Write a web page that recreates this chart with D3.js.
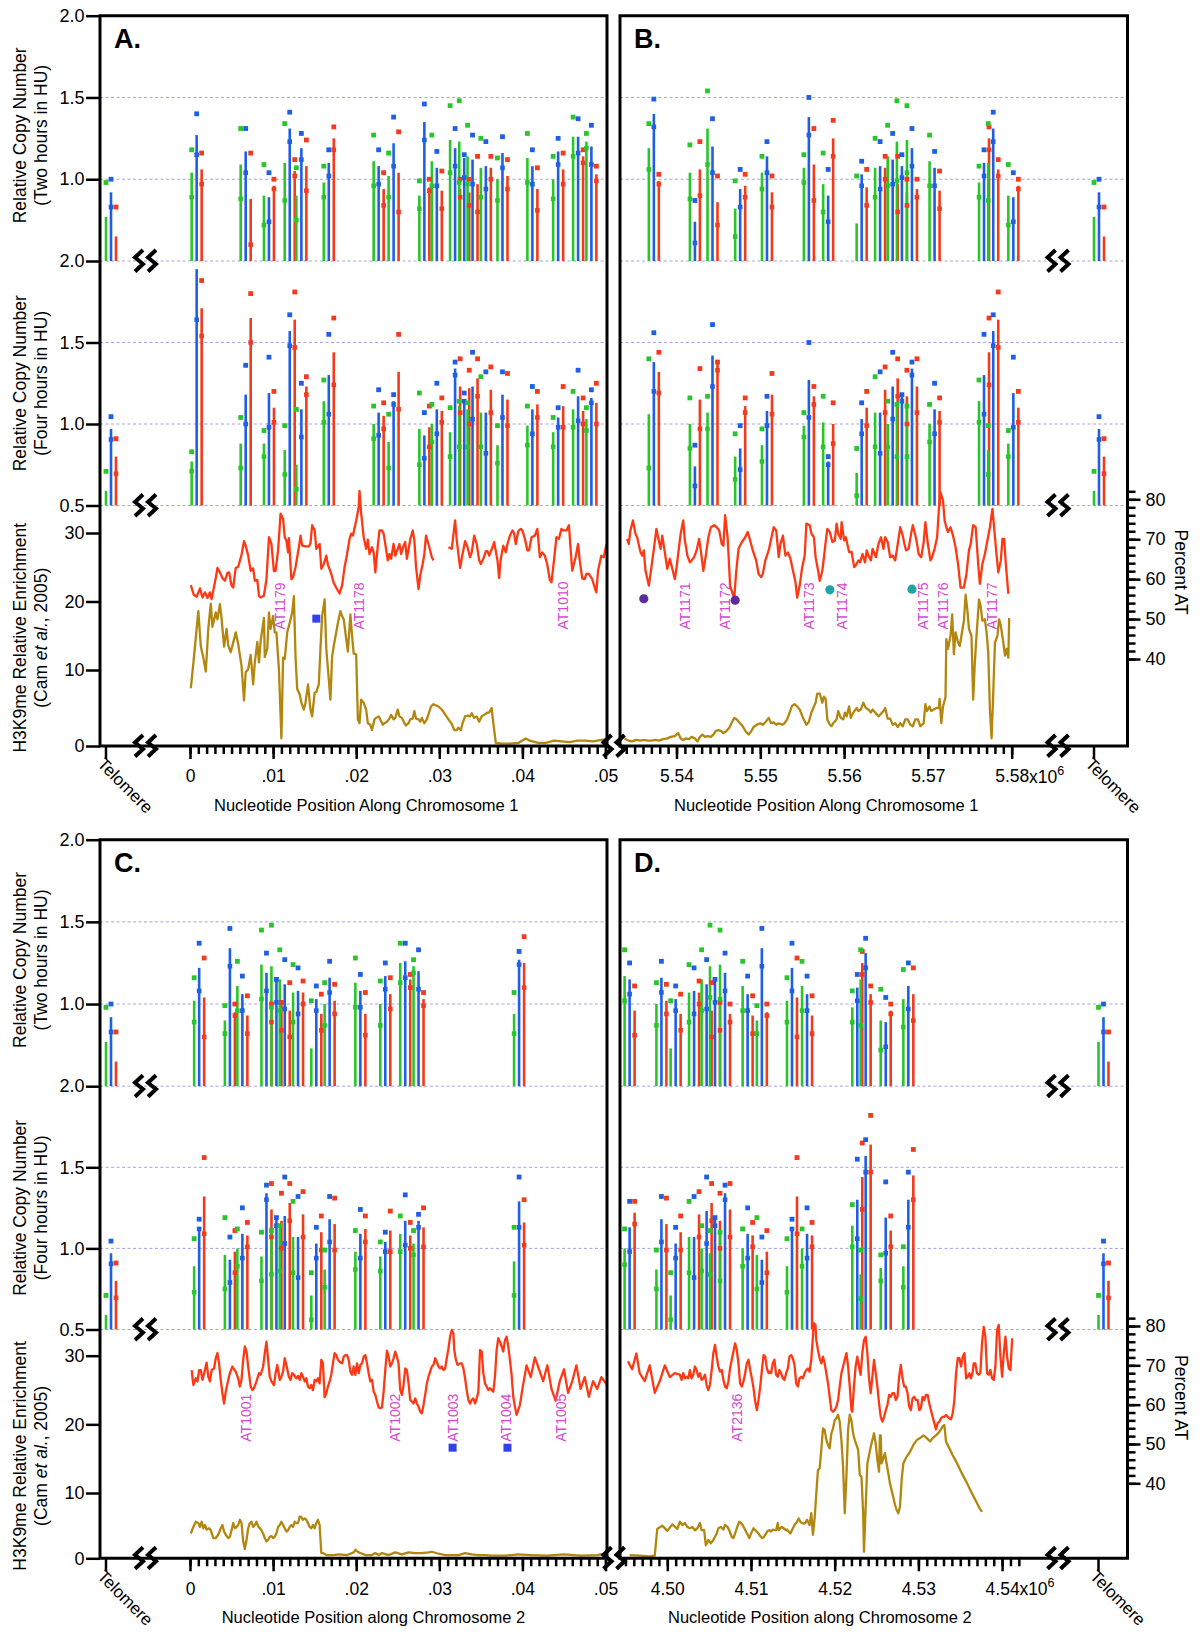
<!DOCTYPE html>
<html><head><meta charset="utf-8">
<script src="https://cdn.jsdelivr.net/npm/d3@7"></script>
<style>body{margin:0;background:#fff}svg{display:block}text{font-family:"Liberation Sans",Arial,Helvetica,sans-serif}</style>
</head><body><svg id="c" width="1200" height="1638"></svg>
<script>
// ---------------- DATA ----------------
// copy-number rows: per locus [green hi, mid, sq, blue hi, mid, sq, red hi, mid, sq]
const TEL_2h = [0.77,0.45,0.98, 0.92,0.83,1.00, 0.65,0.45,0.83];
const TEL_4h = [0.59,0.45,0.71, 0.97,0.905,1.045, 0.80,0.695,0.91];

const A_pos = [0.0002,0.0061,0.0089,0.0114,0.0128,0.0161,0.0221,0.0239,0.0276,0.0291,0.0313,0.0324,0.0334,0.0350,0.0370,0.0406,0.0437,0.0461,0.0477];
const A_2h = [
[1.04,0.89,1.18,1.27,1.15,1.40,1.06,0.97,1.16],[1.09,0.88,1.31,1.17,1.04,1.31,0.88,0.60,1.16],
[0.90,0.72,1.09,0.89,0.74,1.04,0.96,0.94,1.00],[1.10,0.87,1.34,1.31,1.23,1.41,1.05,1.02,1.12],
[0.90,0.75,1.07,1.19,1.12,1.28,1.08,0.93,1.24],[0.98,0.89,1.08,1.10,1.02,1.18,1.25,1.18,1.32],
[1.11,0.96,1.27,1.08,0.97,1.18,0.94,0.84,1.04],[1.02,0.89,1.16,1.22,1.08,1.38,1.04,0.80,1.29],
[0.90,0.82,0.99,1.35,1.24,1.46,0.95,0.93,1.00],[1.11,0.96,1.27,1.07,0.96,1.17,0.93,0.82,1.05],
[1.24,1.04,1.45,1.19,1.08,1.31,0.94,0.89,1.00],[1.23,0.98,1.48,1.13,1.01,1.15,0.92,0.84,1.00],
[1.14,0.97,1.33,1.12,0.97,1.27,0.97,0.80,1.14],[1.07,0.89,1.25,1.08,0.94,1.23,1.07,1.00,1.14],
[1.00,0.87,1.13,1.16,1.07,1.26,1.02,0.94,1.12],[1.13,0.98,1.28,1.08,0.97,1.18,0.94,0.81,1.07],
[1.00,0.88,1.14,1.17,1.09,1.25,1.06,0.97,1.16],[1.26,1.14,1.38,1.26,1.16,1.37,1.14,1.10,1.18],
[1.23,1.19,1.28,1.20,1.09,1.33,1.03,0.99,1.08]];
const A_4h = [
[0.77,0.71,0.83,1.95,1.64,2.10,1.71,1.54,1.88],[0.88,0.73,1.04,1.18,1.00,1.36,1.65,1.50,1.80],
[0.88,0.80,0.96,1.19,0.98,1.41,1.10,1.01,1.20],[0.84,0.69,0.99,1.57,1.48,1.67,1.64,1.47,1.81],
[0.75,0.60,1.09,1.09,0.92,1.25,1.23,1.18,1.29],[1.14,1.01,1.27,1.30,1.06,1.55,1.44,1.24,1.65],
[1.00,0.91,1.11,1.07,0.93,1.21,1.05,0.97,1.13],[0.89,0.73,1.06,1.14,1.12,1.18,1.32,1.09,1.55],
[0.97,0.75,1.19,0.93,0.79,1.07,0.98,0.86,1.11],[1.00,0.89,1.12,1.09,0.94,1.25,1.08,1.01,1.16],
[0.95,0.80,1.10,1.34,1.30,1.38,1.23,1.07,1.40],[1.11,0.86,1.14,1.15,1.14,1.19,1.22,1.00,1.33],
[1.09,0.86,1.13,1.23,1.03,1.44,1.28,1.17,1.40],[1.07,0.86,1.29,1.07,0.82,1.32,1.21,1.07,1.35],
[0.87,0.76,0.99,1.18,1.04,1.32,1.15,0.99,1.31],[0.99,0.87,1.11,1.09,0.94,1.23,1.12,1.04,1.20],
[0.95,0.86,1.04,1.04,0.98,1.10,1.11,0.98,1.23],[1.09,0.98,1.20,1.17,1.02,1.33,1.08,1.00,1.16],
[1.03,0.96,1.10,1.16,1.13,1.21,1.13,1.00,1.25]];

const B_pos = [5.5367,5.5416,5.5437,5.5470,5.5502,5.5552,5.5575,5.5615,5.5637,5.5652,5.5663,5.5675,5.5702,5.5761,5.5772,5.5796];
const B_2h = [
[1.19,1.06,1.34,1.40,1.32,1.49,0.99,0.97,1.03],[1.04,0.88,1.21,0.74,0.61,0.87,1.06,0.90,1.23],
[1.31,1.09,1.54,1.20,1.04,1.37,0.86,0.72,1.02],[0.82,0.65,0.99,0.94,0.83,1.06,0.96,0.89,1.03],
[1.04,0.94,1.14,1.14,1.04,1.23,0.92,0.83,1.02],[1.07,0.98,1.15,1.38,1.27,1.50,1.09,0.87,1.31],
[0.97,0.80,1.16,0.90,0.74,1.06,1.25,1.14,1.36],[0.73,0.45,1.02,1.03,0.96,1.11,0.95,0.84,1.06],
[1.07,0.89,1.25,1.08,0.94,1.23,1.07,1.00,1.14],[1.14,0.96,1.33,1.12,0.97,1.28,0.97,0.80,1.14],
[1.23,0.99,1.48,1.08,1.01,1.15,0.92,0.84,1.00],[1.24,1.04,1.45,1.19,1.08,1.31,0.94,0.89,1.00],
[1.11,0.96,1.27,1.07,0.96,1.17,0.93,0.82,1.05],[0.98,0.89,1.08,1.10,1.02,1.18,1.25,1.18,1.32],
[1.10,0.87,1.34,1.31,1.23,1.41,1.06,1.02,1.12],[0.90,0.72,1.09,0.89,0.74,1.04,0.96,0.94,1.00]];
const B_4h = [
[1.06,0.73,1.40,1.38,1.20,1.56,1.32,1.19,1.44],[1.00,0.85,1.16,0.74,0.62,0.87,1.15,0.97,1.34],
[1.07,0.97,1.17,1.42,1.23,1.61,1.38,1.33,1.38],[0.80,0.66,0.94,0.85,0.72,0.99,1.11,1.07,1.16],
[0.87,0.77,0.97,1.08,0.99,1.17,1.18,1.06,1.31],[0.99,0.92,1.07,1.27,1.04,1.50,1.17,1.12,1.23],
[1.01,0.86,1.17,0.77,0.75,0.80,1.00,0.88,1.13],[0.70,0.56,0.85,1.03,0.94,1.13,1.10,0.99,1.20],
[1.07,0.86,1.29,1.07,0.82,1.32,1.21,1.07,1.35],[1.00,0.86,1.14,1.23,1.03,1.44,1.28,1.17,1.40],
[1.11,0.80,1.12,1.19,1.14,1.18,1.17,1.00,1.33],[1.11,0.80,1.11,1.34,1.30,1.38,1.23,1.07,1.40],
[1.00,0.89,1.12,1.09,0.94,1.25,1.08,1.01,1.16],[1.14,1.01,1.27,1.30,1.06,1.55,1.44,1.24,1.65],
[0.84,0.69,0.99,1.57,1.48,1.67,1.64,1.47,1.81],[0.88,0.80,0.96,1.19,0.98,1.41,1.10,1.01,1.20]];

const C_pos = [0.0005,0.0042,0.0057,0.0086,0.0098,0.0108,0.0124,0.0146,0.0162,0.0199,0.0229,0.0253,0.0269,0.0390];
const C_2h = [
[1.02,0.89,1.16,1.22,1.08,1.37,1.04,0.80,1.28],[0.90,0.82,0.99,1.34,1.23,1.46,0.95,0.93,1.00],
[1.11,0.96,1.26,1.06,0.96,1.17,0.93,0.82,1.05],[1.24,1.03,1.45,1.19,1.08,1.31,0.98,0.89,1.00],
[1.23,0.98,1.48,1.15,1.01,1.15,1.01,0.84,1.01],[1.15,0.96,1.33,1.12,0.97,1.27,0.96,0.80,1.13],
[1.07,0.89,1.24,1.08,0.94,1.22,1.07,1.00,1.14],[0.73,0.45,1.02,1.03,0.96,1.11,0.94,0.84,1.06],
[1.00,0.87,1.13,1.16,1.07,1.26,1.02,0.94,1.12],[1.13,0.98,1.28,1.08,0.98,1.18,0.94,0.81,1.07],
[1.00,0.87,1.14,1.17,1.09,1.25,1.06,0.97,1.16],[1.25,1.13,1.37,1.26,1.16,1.37,1.15,1.10,1.18],
[1.23,1.19,1.27,1.20,1.09,1.33,1.03,0.99,1.07],[0.94,0.82,1.07,1.27,1.24,1.32,1.25,1.10,1.41]];
const C_4h = [
[0.89,0.73,1.06,1.13,1.12,1.18,1.32,1.09,1.56],[0.96,0.75,1.19,0.93,0.79,1.07,0.98,0.85,1.11],
[1.00,0.89,1.12,1.09,0.94,1.25,1.08,1.01,1.16],[0.95,0.80,1.10,1.34,1.30,1.39,1.24,1.07,1.40],
[1.11,0.84,1.11,1.19,1.14,1.19,1.17,1.00,1.34],[1.15,0.86,1.14,1.20,1.03,1.44,1.28,1.17,1.40],
[1.07,0.85,1.29,1.07,0.82,1.32,1.21,1.07,1.35],[0.71,0.56,0.85,1.03,0.94,1.13,1.10,0.99,1.20],
[0.87,0.76,0.99,1.18,1.04,1.32,1.15,0.99,1.31],[0.98,0.87,1.11,1.09,0.94,1.24,1.12,1.04,1.20],
[0.95,0.86,1.04,1.04,0.98,1.10,1.11,0.98,1.23],[1.09,0.98,1.20,1.17,1.02,1.33,1.08,1.00,1.16],
[1.03,0.96,1.11,1.17,1.13,1.21,1.13,1.01,1.25],[0.92,0.71,1.13,1.29,1.13,1.44,1.16,1.02,1.30]];

const D_pos = [4.4949,4.4987,4.5004,4.5026,4.5041,4.5051,4.5063,4.5090,4.5107,4.5143,4.5161,4.5221,4.5231,4.5255,4.5282];
const D_2h = [
[1.17,1.02,1.33,1.15,1.06,1.25,0.96,0.81,1.11],[1.00,0.87,1.13,1.16,1.07,1.26,1.02,0.94,1.12],
[0.73,0.45,1.02,1.03,0.96,1.11,0.94,0.84,1.06],[1.07,0.89,1.24,1.08,0.94,1.22,1.07,1.00,1.14],
[1.15,0.96,1.33,1.12,0.97,1.27,0.96,0.80,1.13],[1.23,1.04,1.48,1.15,1.01,1.15,1.00,0.84,1.01],
[1.24,1.03,1.45,1.19,1.08,1.31,0.94,0.89,1.00],[1.11,0.96,1.26,1.06,0.96,1.17,0.93,0.82,1.05],
[0.90,0.82,0.99,1.34,1.23,1.46,0.95,0.93,1.00],[1.02,0.89,1.16,1.22,1.08,1.37,1.04,0.80,1.28],
[1.11,0.96,1.26,1.06,0.96,1.17,0.93,0.82,1.05],[0.98,0.89,1.08,1.10,1.02,1.18,1.25,1.18,1.32],
[1.15,0.87,1.33,1.31,1.22,1.40,1.06,1.01,1.11],[0.90,0.72,1.09,0.89,0.74,1.04,0.96,0.94,1.00],
[1.03,0.86,1.21,1.11,0.97,1.25,1.06,0.90,1.22]];
const D_4h = [
[1.00,0.90,1.12,1.13,0.98,1.29,1.22,1.15,1.29],[0.87,0.75,0.99,1.18,1.04,1.32,1.15,0.99,1.31],
[0.71,0.56,0.85,1.03,0.94,1.13,1.10,0.99,1.20],[1.07,0.85,1.29,1.07,0.82,1.32,1.21,1.07,1.35],
[1.00,0.86,1.14,1.23,1.03,1.44,1.28,1.17,1.40],[0.97,0.84,1.11,1.19,1.14,1.19,1.17,1.00,1.34],
[1.10,0.80,1.10,1.34,1.30,1.39,1.24,1.07,1.40],[1.00,0.89,1.12,1.09,0.94,1.25,1.08,1.01,1.16],
[0.96,0.75,1.19,0.93,0.79,1.07,0.98,0.85,1.11],[0.89,0.73,1.06,1.13,1.12,1.18,1.32,1.09,1.56],
[1.00,0.89,1.12,1.09,0.94,1.25,1.08,1.01,1.16],[1.14,1.01,1.27,1.30,1.06,1.55,1.44,1.24,1.65],
[0.84,0.69,0.99,1.57,1.47,1.67,1.64,1.47,1.82],[0.88,0.80,0.96,1.19,0.97,1.41,1.11,1.01,1.20],
[0.89,0.76,1.01,1.30,1.13,1.47,1.45,1.30,1.61]];

// Percent AT lines [position (Mb), %AT]; null = gap
const A_at = [[0.0001,58.5],[0.00045,56.1],[0.0008,55.6],[0.0012,57.7],[0.0015,55.4],[0.0018,56.7],[0.0021,55.3],[0.0024,56.7],[0.0026,55.0],[0.0031,60.3],[0.0033,62.8],[0.0036,61.7],[0.0039,60.3],[0.0042,59.6],[0.0045,61.5],[0.0047,61.7],[0.0050,58.4],[0.0052,57.9],[0.0055,62.8],[0.0058,63.1],[0.0062,66.1],[0.0065,69.5],[0.0067,68.4],[0.0070,65.9],[0.0073,62.1],[0.0076,62.7],[0.0078,59.6],[0.0081,59.8],[0.0083,55.8],[0.0085,55.4],[0.0089,55.9],[0.0092,60.0],[0.0095,70.5],[0.0098,68.8],[0.0101,62.0],[0.0103,62.1],[0.0106,67.2],[0.0109,76.4],[0.0112,75.1],[0.0114,70.5],[0.0116,69.7],[0.0118,66.7],[0.0119,70.3],[0.0122,60.0],[0.0124,60.5],[0.0127,63.0],[0.0131,68.0],[0.0133,70.9],[0.0135,68.4],[0.0139,68.2],[0.0143,68.2],[0.0145,69.0],[0.0147,73.5],[0.0150,72.2],[0.0152,67.6],[0.0156,68.8],[0.0158,62.6],[0.0161,63.8],[0.0164,65.9],[0.0166,63.6],[0.0170,61.3],[0.0173,59.0],[0.0180,56.4],[0.0183,58.4],[0.0186,63.0],[0.0189,66.3],[0.0192,70.1],[0.0194,71.4],[0.0196,70.9],[0.0200,74.7],[0.0203,78.1],[0.0204,82.1],[0.0206,76.4],[0.0209,70.5],[0.0212,67.6],[0.0214,69.9],[0.0216,66.3],[0.0219,68.0],[0.0221,66.7],[0.0223,61.7],[0.0226,68.4],[0.0228,72.2],[0.0231,72.2],[0.0233,71.4],[0.0235,68.8],[0.0238,64.7],[0.0240,66.3],[0.0242,65.1],[0.0245,68.8],[0.0247,65.9],[0.0250,67.6],[0.0252,68.8],[0.0254,66.3],[0.0257,68.4],[0.0259,69.3],[0.0261,65.1],[0.0265,69.9],[0.0268,72.2],[0.0270,69.7],[0.0272,63.1],[0.0275,57.5],[0.0277,60.9],[0.0280,63.8],[0.0282,66.3],[0.0284,70.9],[0.0288,68.0],[0.0291,65.5],[0.0293,64.7],null,[0.0311,68.0],[0.0315,67.6],[0.0319,74.7],[0.0321,69.7],[0.0325,62.8],[0.0328,66.3],[0.0331,69.5],[0.0334,68.0],[0.0337,65.5],[0.0339,66.7],[0.0342,70.9],[0.0345,68.8],[0.0348,64.7],[0.0350,63.8],[0.0353,65.1],[0.0356,67.0],[0.0358,67.0],[0.0360,65.9],[0.0364,68.0],[0.0366,69.3],[0.0370,64.7],[0.0372,60.3],[0.0374,65.1],[0.0377,68.4],[0.0380,66.7],[0.0382,68.8],[0.0385,70.9],[0.0388,72.2],[0.0390,71.5],[0.0392,68.8],[0.0395,72.0],[0.0398,72.6],[0.0400,72.2],[0.0403,70.1],[0.0406,67.2],[0.0408,67.2],[0.0411,70.5],[0.0415,70.9],[0.0418,72.6],[0.0421,65.5],[0.0424,66.7],[0.0427,65.9],[0.0430,63.6],[0.0433,59.8],[0.0435,59.2],[0.0438,64.7],[0.0441,70.5],[0.0444,70.1],[0.0447,72.6],[0.0449,72.2],[0.0453,72.2],[0.0456,73.5],[0.0458,67.6],[0.0460,62.1],[0.0464,65.5],[0.0467,68.8],[0.0469,64.7],[0.0472,60.2],[0.0475,60.0],[0.0477,61.3],[0.0480,61.3],[0.0484,60.0],[0.0487,57.9],[0.0489,56.7],[0.0491,62.1],[0.0495,65.9],[0.0498,65.5],[0.0501,68.7]];
const A_h3 = [[0.0001,7.6],[0.00045,11.6],[0.0008,16.0],[0.0010,18.6],[0.0013,13.5],[0.0016,11.8],[0.0019,9.8],[0.0022,16.0],[0.0025,19.7],[0.0027,16.3],[0.0031,18.4],[0.0033,17.4],[0.0036,19.6],[0.0038,17.5],[0.0041,13.4],[0.0044,16.0],[0.0046,13.6],[0.0049,12.6],[0.0052,14.0],[0.0055,15.5],[0.0058,13.8],[0.0062,10.6],[0.0065,6.0],[0.0067,9.7],[0.0070,10.1],[0.0073,12.2],[0.0076,8.1],[0.0078,11.1],[0.0081,14.1],[0.0083,11.1],[0.0085,14.2],[0.0089,17.6],[0.0090,11.9],[0.0093,13.1],[0.0095,18.4],[0.0097,16.0],[0.0100,17.9],[0.0102,15.5],[0.0104,15.5],[0.0107,10.1],[0.0110,1.0],[0.0112,11.8],[0.0114,11.6],[0.0117,15.5],[0.0120,16.9],[0.0123,18.4],[0.0125,20.8],[0.0127,11.9],[0.0129,7.5],[0.0132,6.8],[0.0134,5.7],[0.0137,4.8],[0.0139,5.7],[0.0142,8.1],[0.0145,4.8],[0.0147,3.9],[0.0150,7.0],[0.0152,7.1],[0.0155,8.1],[0.0157,13.1],[0.0159,17.9],[0.0162,20.3],[0.0164,13.1],[0.0167,8.8],[0.0169,6.1],[0.0171,11.9],[0.0173,13.5],[0.0176,15.5],[0.0178,16.9],[0.0181,18.6],[0.0183,17.9],[0.0185,17.4],[0.0188,14.5],[0.0190,12.7],[0.0193,18.1],[0.0195,15.0],[0.0197,12.4],[0.0200,12.3],[0.0202,3.5],[0.0204,3.0],[0.0206,6.1],[0.0209,5.7],[0.0212,4.8],[0.0214,3.0],[0.0217,2.8],[0.0219,2.1],[0.0222,3.5],[0.0224,3.7],[0.0227,3.9],[0.0229,3.5],[0.0232,2.8],[0.0234,3.0],[0.0237,3.2],[0.0240,3.6],[0.0242,4.1],[0.0245,3.5],[0.0247,3.7],[0.0250,4.8],[0.0252,3.9],[0.0255,3.7],[0.0258,3.0],[0.0260,2.7],[0.0263,3.0],[0.0265,3.5],[0.0268,3.6],[0.0270,4.6],[0.0272,3.6],[0.0275,3.5],[0.0277,3.2],[0.0279,3.7],[0.0282,3.0],[0.0285,3.5],[0.0290,5.2],[0.0293,5.5],[0.0299,5.2],[0.0303,4.8],[0.0308,4.0],[0.0311,3.5],[0.0315,2.9],[0.0318,2.1],[0.0321,2.1],[0.0323,2.4],[0.0326,2.1],[0.0328,3.0],[0.0331,3.9],[0.0334,4.0],[0.0337,3.9],[0.0339,4.3],[0.0342,3.7],[0.0345,3.9],[0.0348,3.2],[0.0351,3.9],[0.0354,4.1],[0.0358,4.4],[0.0360,4.4],[0.0363,5.0],[0.0365,3.0],[0.0368,0.4],[0.0376,0.3],[0.0385,0.3],[0.0395,0.4],[0.0404,1.0],[0.0409,0.7],[0.0419,0.4],[0.0428,0.4],[0.0438,0.7],[0.0447,0.6],[0.0457,0.5],[0.0466,0.7],[0.0476,0.7],[0.0485,0.6],[0.0495,0.8],[0.0502,0.9]];

const B_at = [[5.5341,70.1],[5.5343,68.8],[5.5345,72.2],[5.5348,74.7],[5.5351,71.4],[5.5353,70.5],[5.5357,66.8],[5.5359,65.9],[5.5361,67.2],[5.5363,62.1],[5.5367,58.4],[5.5369,61.3],[5.5373,67.6],[5.5376,72.6],[5.5378,70.5],[5.5381,67.6],[5.5383,70.9],[5.5386,66.8],[5.5389,62.6],[5.5392,65.1],[5.5395,62.6],[5.5398,60.0],[5.5400,62.8],[5.5403,68.0],[5.5405,71.4],[5.5408,74.7],[5.5410,69.7],[5.5413,65.9],[5.5416,64.2],[5.5418,64.7],[5.5421,65.5],[5.5424,67.2],[5.5427,70.1],[5.5429,67.2],[5.5432,62.1],[5.5435,65.9],[5.5438,70.5],[5.5441,73.0],[5.5445,73.5],[5.5448,73.0],[5.5451,72.2],[5.5454,68.8],[5.5456,68.4],[5.5458,76.0],[5.5461,70.5],[5.5464,58.4],[5.5467,56.3],[5.5469,55.4],[5.5471,61.3],[5.5474,67.6],[5.5478,69.3],[5.5482,70.5],[5.5485,71.8],[5.5489,68.8],[5.5491,67.2],[5.5495,64.7],[5.5498,61.3],[5.5501,60.5],[5.5503,61.3],[5.5506,64.7],[5.5510,67.2],[5.5513,70.1],[5.5516,73.0],[5.5519,72.2],[5.5522,65.5],[5.5524,68.8],[5.5527,70.9],[5.5530,65.9],[5.5533,66.7],[5.5536,65.1],[5.5539,62.1],[5.5542,59.2],[5.5544,55.4],[5.5547,58.4],[5.5550,63.0],[5.5553,65.9],[5.5555,73.9],[5.5559,73.5],[5.5561,71.4],[5.5564,70.5],[5.5566,65.5],[5.5569,62.1],[5.5571,59.6],[5.5574,62.1],[5.5576,65.5],[5.5578,69.3],[5.5580,72.6],[5.5583,71.8],[5.5586,69.3],[5.5589,69.7],[5.5591,73.9],[5.5593,71.4],[5.5596,70.1],[5.5597,74.3],[5.5600,69.7],[5.5602,70.5],[5.5606,66.8],[5.5609,66.8],[5.5612,63.0],[5.5615,63.8],[5.5617,64.7],[5.5619,64.2],[5.5622,66.3],[5.5625,64.2],[5.5627,67.2],[5.5629,65.9],[5.5632,64.7],[5.5634,67.6],[5.5638,65.5],[5.5641,68.8],[5.5644,70.5],[5.5647,67.6],[5.5649,70.5],[5.5652,69.3],[5.5655,65.5],[5.5658,65.9],[5.5661,64.7],[5.5664,68.8],[5.5667,73.0],[5.5670,70.9],[5.5672,68.8],[5.5674,67.2],[5.5677,67.6],[5.5680,71.4],[5.5682,73.5],[5.5686,70.1],[5.5689,66.3],[5.5692,65.5],[5.5695,69.3],[5.5697,74.3],[5.5700,68.8],[5.5703,64.7],[5.5705,65.5],[5.5708,67.6],[5.5711,70.5],[5.5713,77.2],[5.5715,81.8],[5.5718,79.7],[5.5720,74.7],[5.5722,73.0],[5.5724,71.8],[5.5727,73.0],[5.5730,70.9],[5.5733,68.0],[5.5736,63.8],[5.5739,57.9],[5.5743,57.9],[5.5746,61.3],[5.5749,67.2],[5.5751,68.8],[5.5754,73.5],[5.5757,73.0],[5.5760,63.8],[5.5762,58.8],[5.5765,63.8],[5.5768,66.3],[5.5771,69.7],[5.5774,73.0],[5.5777,77.6],[5.5779,73.0],[5.5782,65.9],[5.5784,61.7],[5.5787,64.7],[5.5789,70.1],[5.5791,70.1],[5.5793,63.8],[5.5796,56.3]];
const B_h3 = [[5.5338,1.0],[5.5343,0.7],[5.5347,0.6],[5.5352,0.8],[5.5357,0.7],[5.5361,0.8],[5.5366,0.7],[5.5370,0.7],[5.5375,0.8],[5.5379,0.7],[5.5384,0.9],[5.5389,1.0],[5.5393,1.2],[5.5398,1.3],[5.5402,1.7],[5.5405,1.0],[5.5408,0.8],[5.5411,1.0],[5.5415,0.9],[5.5418,1.2],[5.5422,1.0],[5.5425,0.6],[5.5428,1.2],[5.5431,1.5],[5.5434,1.2],[5.5437,1.3],[5.5441,1.2],[5.5444,1.5],[5.5447,2.0],[5.5450,2.1],[5.5453,2.0],[5.5456,1.7],[5.5459,1.9],[5.5463,2.4],[5.5466,3.1],[5.5469,3.7],[5.5472,3.5],[5.5475,3.1],[5.5479,2.6],[5.5482,2.0],[5.5486,1.5],[5.5489,1.9],[5.5492,2.5],[5.5496,2.8],[5.5500,3.0],[5.5503,2.8],[5.5506,3.1],[5.5510,3.7],[5.5513,3.0],[5.5516,3.1],[5.5519,2.8],[5.5522,3.0],[5.5526,2.8],[5.5529,3.0],[5.5532,3.5],[5.5535,4.4],[5.5538,5.3],[5.5541,5.5],[5.5544,5.2],[5.5547,4.8],[5.5551,3.7],[5.5555,2.8],[5.5558,3.2],[5.5561,4.4],[5.5564,5.2],[5.5566,5.7],[5.5568,6.9],[5.5571,6.9],[5.5574,5.7],[5.5576,6.5],[5.5578,6.2],[5.5580,3.5],[5.5583,2.8],[5.5585,2.6],[5.5587,3.0],[5.5591,3.5],[5.5593,4.6],[5.5596,3.7],[5.5599,3.5],[5.5601,4.4],[5.5603,3.9],[5.5606,5.2],[5.5608,3.7],[5.5611,4.4],[5.5615,5.0],[5.5617,4.6],[5.5620,4.8],[5.5623,5.7],[5.5626,5.0],[5.5629,4.8],[5.5632,4.4],[5.5634,4.8],[5.5638,4.3],[5.5641,3.9],[5.5643,4.1],[5.5647,4.6],[5.5649,5.0],[5.5652,3.6],[5.5655,3.6],[5.5658,2.8],[5.5661,3.0],[5.5664,2.5],[5.5667,3.0],[5.5670,2.6],[5.5673,3.5],[5.5676,3.5],[5.5679,2.8],[5.5682,2.6],[5.5685,3.5],[5.5688,3.5],[5.5691,2.6],[5.5695,3.0],[5.5697,5.5],[5.5699,4.6],[5.5702,5.2],[5.5704,4.6],[5.5707,4.8],[5.5710,5.0],[5.5713,5.0],[5.5714,6.2],[5.5716,3.0],[5.5718,5.2],[5.5721,6.4],[5.5722,14.5],[5.5724,13.1],[5.5727,15.0],[5.5729,18.1],[5.5731,12.3],[5.5733,15.5],[5.5736,14.0],[5.5738,13.5],[5.5740,15.0],[5.5743,17.2],[5.5745,21.0],[5.5747,18.9],[5.5749,16.0],[5.5752,15.0],[5.5754,6.1],[5.5756,11.1],[5.5758,15.0],[5.5761,20.3],[5.5763,19.3],[5.5765,17.2],[5.5768,17.4],[5.5770,15.5],[5.5772,12.6],[5.5774,4.8],[5.5776,1.0],[5.5778,7.0],[5.5780,14.0],[5.5783,15.0],[5.5785,17.4],[5.5787,16.5],[5.5790,14.0],[5.5792,12.1],[5.5794,13.1],[5.5796,11.8],[5.5797,17.6]];

const C_at = [[0.0002,68.8],[0.0004,65.0],[0.0007,66.7],[0.0009,65.9],[0.0011,68.8],[0.0013,68.8],[0.0015,66.3],[0.0017,68.0],[0.0020,70.7],[0.0022,67.1],[0.0024,65.9],[0.0026,68.8],[0.0029,69.2],[0.0031,71.8],[0.0033,73.1],[0.0035,70.5],[0.0037,66.3],[0.0039,62.9],[0.0041,60.3],[0.0043,63.3],[0.0046,66.3],[0.0048,68.0],[0.0051,69.7],[0.0053,69.0],[0.0055,68.4],[0.0058,66.7],[0.0060,64.6],[0.0062,66.3],[0.0064,71.4],[0.0066,74.8],[0.0068,73.5],[0.0070,69.7],[0.0073,64.6],[0.0075,63.7],[0.0077,64.2],[0.0080,65.9],[0.0083,68.0],[0.0085,67.6],[0.0088,69.7],[0.0090,73.1],[0.0092,76.0],[0.0094,71.4],[0.0096,67.1],[0.0098,65.9],[0.0101,65.0],[0.0103,68.0],[0.0105,70.1],[0.0108,66.3],[0.0110,67.1],[0.0112,68.4],[0.0114,71.8],[0.0116,70.1],[0.0119,67.1],[0.0121,66.3],[0.0123,68.0],[0.0125,67.6],[0.0128,66.7],[0.0130,67.3],[0.0132,66.3],[0.0134,68.0],[0.0136,67.1],[0.0138,65.9],[0.0140,66.7],[0.0142,64.6],[0.0144,64.2],[0.0146,65.0],[0.0148,63.7],[0.0150,66.3],[0.0152,65.9],[0.0154,66.7],[0.0156,65.4],[0.0158,71.4],[0.0160,70.5],[0.0162,61.9],[0.0164,62.9],[0.0166,64.6],[0.0168,65.9],[0.0170,67.6],[0.0172,70.5],[0.0174,73.1],[0.0176,72.6],[0.0178,71.4],[0.0180,70.9],[0.0183,70.5],[0.0185,72.2],[0.0187,72.6],[0.0189,72.6],[0.0191,71.4],[0.0193,68.4],[0.0195,67.6],[0.0197,69.7],[0.0199,67.6],[0.0201,70.5],[0.0203,68.0],[0.0205,70.1],[0.0207,70.5],[0.0209,72.2],[0.0211,72.6],[0.0213,70.5],[0.0215,68.0],[0.0217,65.9],[0.0219,66.3],[0.0221,63.3],[0.0223,62.5],[0.0225,60.8],[0.0227,59.3],[0.0229,59.1],[0.0231,59.3],[0.0233,63.3],[0.0235,68.8],[0.0237,73.7],[0.0239,72.2],[0.0241,69.7],[0.0243,70.5],[0.0245,71.8],[0.0247,73.5],[0.0249,72.2],[0.0251,70.5],[0.0253,63.7],[0.0255,62.5],[0.0257,65.0],[0.0259,69.2],[0.0261,68.8],[0.0263,65.4],[0.0265,61.2],[0.0267,60.8],[0.0269,60.3],[0.0271,61.6],[0.0273,60.3],[0.0275,59.5],[0.0277,58.2],[0.0279,57.8],[0.0281,59.9],[0.0283,62.5],[0.0285,65.4],[0.0287,67.1],[0.0289,68.4],[0.0291,69.7],[0.0293,70.1],[0.0295,71.8],[0.0297,70.9],[0.0299,69.7],[0.0301,69.2],[0.0303,69.7],[0.0305,68.8],[0.0307,69.2],[0.0309,71.8],[0.0311,74.3],[0.0313,77.3],[0.0315,79.0],[0.0317,78.1],[0.0318,73.9],[0.0320,71.4],[0.0322,70.1],[0.0325,70.5],[0.0327,70.5],[0.0329,69.2],[0.0331,66.7],[0.0333,63.7],[0.0335,61.2],[0.0337,60.3],[0.0339,61.2],[0.0341,61.6],[0.0343,60.3],[0.0345,61.6],[0.0347,63.3],[0.0349,73.9],[0.0351,73.5],[0.0353,68.0],[0.0355,65.4],[0.0357,64.6],[0.0359,63.7],[0.0361,64.2],[0.0363,63.7],[0.0365,63.3],[0.0367,67.1],[0.0369,73.9],[0.0371,76.9],[0.0373,76.0],[0.0375,74.8],[0.0377,73.5],[0.0379,76.4],[0.0381,77.3],[0.0383,74.8],[0.0385,71.4],[0.0387,67.6],[0.0389,62.0],[0.0391,59.5],[0.0393,57.4],[0.0395,58.7],[0.0397,59.9],[0.0400,64.0],[0.0405,70.0],[0.0410,67.0],[0.0415,72.0],[0.0420,69.0],[0.0425,66.0],[0.0430,70.0],[0.0435,64.0],[0.0440,61.0],[0.0445,66.0],[0.0450,69.0],[0.0455,63.0],[0.0460,66.0],[0.0465,70.0],[0.0470,64.0],[0.0475,67.0],[0.0480,62.0],[0.0485,66.0],[0.0490,64.0],[0.0495,67.0],[0.0502,65.0]];
const C_h3 = [[0.0001,3.8],[0.0004,4.8],[0.0007,5.6],[0.0010,5.4],[0.0012,4.8],[0.0014,5.6],[0.0016,4.6],[0.0018,5.1],[0.0020,4.4],[0.0023,4.6],[0.0025,4.3],[0.0028,3.1],[0.0031,3.1],[0.0034,3.6],[0.0037,4.6],[0.0039,5.1],[0.0041,4.1],[0.0043,3.6],[0.0046,3.1],[0.0048,3.3],[0.0050,4.3],[0.0052,5.4],[0.0054,4.6],[0.0056,4.8],[0.0058,5.1],[0.0060,5.9],[0.0062,5.4],[0.0064,2.6],[0.0066,1.4],[0.0068,2.8],[0.0070,4.6],[0.0072,5.4],[0.0074,5.6],[0.0076,4.8],[0.0078,5.1],[0.0080,5.6],[0.0082,4.9],[0.0084,4.6],[0.0086,4.3],[0.0088,3.8],[0.0090,3.1],[0.0092,2.6],[0.0094,2.8],[0.0096,3.3],[0.0098,3.4],[0.0100,3.1],[0.0102,3.3],[0.0104,3.8],[0.0106,4.8],[0.0108,5.1],[0.0110,5.6],[0.0112,5.1],[0.0114,4.6],[0.0116,4.1],[0.0118,4.3],[0.0120,4.8],[0.0122,5.1],[0.0124,4.8],[0.0126,5.6],[0.0128,5.4],[0.0130,5.4],[0.0132,6.4],[0.0134,6.3],[0.0136,5.9],[0.0138,6.1],[0.0140,5.9],[0.0142,5.4],[0.0144,4.8],[0.0146,4.6],[0.0148,5.1],[0.0150,4.6],[0.0152,5.4],[0.0154,5.9],[0.0156,5.1],[0.0158,0.8],[0.0160,0.8],[0.0164,0.5],[0.0172,0.5],[0.0180,0.6],[0.0189,0.5],[0.0197,0.9],[0.0199,1.3],[0.0203,0.9],[0.0211,0.5],[0.0219,0.5],[0.0223,0.8],[0.0227,0.5],[0.0231,0.8],[0.0239,0.5],[0.0247,0.9],[0.0255,0.6],[0.0263,0.9],[0.0271,0.8],[0.0279,0.8],[0.0287,0.9],[0.0291,1.0],[0.0299,0.7],[0.0307,0.5],[0.0315,0.5],[0.0323,0.5],[0.0331,0.8],[0.0339,0.6],[0.0347,0.5],[0.0355,0.5],[0.0363,0.4],[0.0371,0.4],[0.0379,0.4],[0.0387,0.5],[0.0395,0.6],[0.0410,0.5],[0.0430,0.4],[0.0450,0.6],[0.0470,0.4],[0.0490,0.5],[0.0502,0.8]];

const D_at = [[4.4953,71.0],[4.4958,69.0],[4.4963,73.0],[4.4967,68.0],[4.4973,66.0],[4.4979,70.0],[4.4985,63.0],[4.4991,66.0],[4.4997,70.0],[4.5003,67.0],[4.5009,68.0],[4.5015,67.6],[4.5017,66.3],[4.5019,68.0],[4.5021,66.7],[4.5023,67.1],[4.5025,66.7],[4.5027,68.8],[4.5029,66.7],[4.5031,67.6],[4.5033,69.7],[4.5035,68.8],[4.5037,67.1],[4.5039,68.0],[4.5041,66.3],[4.5043,66.7],[4.5045,67.6],[4.5047,65.0],[4.5049,63.7],[4.5051,65.0],[4.5053,68.8],[4.5055,73.1],[4.5057,75.2],[4.5059,72.2],[4.5061,69.7],[4.5063,68.4],[4.5065,68.8],[4.5067,66.3],[4.5069,64.6],[4.5071,64.2],[4.5073,65.9],[4.5075,69.2],[4.5077,71.4],[4.5079,73.5],[4.5081,75.6],[4.5083,73.9],[4.5085,70.5],[4.5087,65.4],[4.5089,64.6],[4.5091,65.9],[4.5093,68.0],[4.5095,70.5],[4.5097,71.4],[4.5099,68.8],[4.5101,66.7],[4.5103,64.2],[4.5105,60.8],[4.5107,58.6],[4.5109,61.2],[4.5111,64.6],[4.5113,68.8],[4.5115,72.6],[4.5117,72.2],[4.5119,69.2],[4.5121,68.0],[4.5122,68.4],[4.5124,68.0],[4.5126,70.5],[4.5128,71.4],[4.5130,67.6],[4.5132,67.1],[4.5134,68.8],[4.5136,68.0],[4.5138,66.7],[4.5140,66.3],[4.5142,68.0],[4.5144,69.2],[4.5146,72.2],[4.5148,72.6],[4.5150,71.8],[4.5152,70.1],[4.5154,65.4],[4.5156,64.6],[4.5158,66.7],[4.5160,67.1],[4.5162,66.7],[4.5164,68.0],[4.5166,68.8],[4.5168,69.2],[4.5170,68.4],[4.5172,71.4],[4.5174,77.3],[4.5175,80.7],[4.5177,80.3],[4.5178,76.4],[4.5180,73.9],[4.5182,71.8],[4.5184,70.5],[4.5186,72.2],[4.5188,70.5],[4.5190,68.0],[4.5192,65.4],[4.5194,62.0],[4.5196,58.6],[4.5198,58.2],[4.5200,58.6],[4.5202,59.5],[4.5204,61.2],[4.5206,64.6],[4.5208,68.0],[4.5210,69.7],[4.5212,71.4],[4.5214,73.1],[4.5216,69.7],[4.5218,64.6],[4.5220,58.6],[4.5221,58.2],[4.5223,64.6],[4.5225,69.7],[4.5227,72.2],[4.5229,69.7],[4.5231,67.6],[4.5233,73.1],[4.5235,76.4],[4.5237,77.3],[4.5239,73.1],[4.5241,66.7],[4.5243,62.9],[4.5245,67.1],[4.5247,71.4],[4.5249,68.0],[4.5251,64.6],[4.5253,60.3],[4.5255,56.9],[4.5257,55.7],[4.5259,56.9],[4.5261,58.6],[4.5263,59.9],[4.5265,62.5],[4.5267,62.0],[4.5269,62.9],[4.5271,62.9],[4.5273,61.2],[4.5275,62.0],[4.5277,67.1],[4.5279,70.1],[4.5281,66.7],[4.5283,64.6],[4.5285,64.6],[4.5287,62.9],[4.5289,59.5],[4.5291,58.6],[4.5293,61.6],[4.5295,62.0],[4.5297,61.2],[4.5299,61.2],[4.5301,58.6],[4.5303,59.1],[4.5305,62.0],[4.5307,61.2],[4.5309,62.5],[4.5311,62.5],[4.5313,60.3],[4.5315,58.6],[4.5317,56.9],[4.5319,55.3],[4.5321,53.7],[4.5323,55.3],[4.5325,55.7],[4.5327,56.5],[4.5329,56.9],[4.5331,56.9],[4.5333,57.4],[4.5335,56.9],[4.5337,56.5],[4.5339,56.3],[4.5341,57.8],[4.5343,61.2],[4.5345,68.0],[4.5347,71.8],[4.5349,71.8],[4.5351,69.7],[4.5353,72.2],[4.5355,73.1],[4.5357,66.7],[4.5359,67.1],[4.5361,68.0],[4.5363,66.7],[4.5365,68.4],[4.5366,70.5],[4.5368,70.5],[4.5370,68.0],[4.5372,67.6],[4.5374,68.0],[4.5376,75.6],[4.5378,79.8],[4.5380,77.3],[4.5382,68.0],[4.5384,67.6],[4.5386,68.8],[4.5388,66.7],[4.5390,66.3],[4.5392,69.7],[4.5394,79.0],[4.5396,80.3],[4.5398,72.2],[4.5400,67.1],[4.5402,73.1],[4.5404,77.3],[4.5406,72.2],[4.5408,69.2],[4.5410,68.8],[4.5412,76.9]];
const D_h3 = [[4.4955,0.5],[4.4967,0.4],[4.4979,0.3],[4.4985,0.4],[4.4988,4.5],[4.4994,5.0],[4.5000,4.2],[4.5006,5.2],[4.5012,4.5],[4.5015,5.6],[4.5018,5.1],[4.5021,5.4],[4.5024,4.8],[4.5027,4.6],[4.5030,4.8],[4.5033,4.3],[4.5036,4.6],[4.5039,5.4],[4.5041,4.3],[4.5044,4.3],[4.5046,2.0],[4.5049,2.8],[4.5052,2.3],[4.5054,2.6],[4.5057,3.3],[4.5059,3.8],[4.5061,4.6],[4.5064,4.8],[4.5067,4.4],[4.5069,5.1],[4.5072,4.8],[4.5074,4.3],[4.5077,3.3],[4.5079,3.1],[4.5081,3.8],[4.5083,4.6],[4.5086,5.6],[4.5088,5.4],[4.5090,5.1],[4.5092,4.6],[4.5094,4.1],[4.5096,3.6],[4.5098,3.1],[4.5100,3.8],[4.5102,4.3],[4.5103,4.6],[4.5106,4.2],[4.5109,3.8],[4.5111,3.4],[4.5113,3.1],[4.5115,3.2],[4.5117,3.6],[4.5118,3.8],[4.5120,4.2],[4.5122,4.3],[4.5124,4.1],[4.5126,4.4],[4.5128,4.3],[4.5130,4.3],[4.5132,5.4],[4.5133,4.3],[4.5135,4.6],[4.5137,4.8],[4.5139,4.6],[4.5142,4.3],[4.5143,4.4],[4.5145,4.1],[4.5147,3.8],[4.5150,4.6],[4.5152,5.1],[4.5155,5.6],[4.5157,6.1],[4.5159,5.6],[4.5161,5.4],[4.5163,5.3],[4.5165,5.4],[4.5167,5.9],[4.5170,5.1],[4.5172,6.9],[4.5174,3.6],[4.5176,6.1],[4.5178,9.9],[4.5180,13.3],[4.5182,13.6],[4.5184,16.3],[4.5186,19.4],[4.5188,19.2],[4.5190,17.7],[4.5192,17.0],[4.5194,16.5],[4.5196,18.7],[4.5198,19.4],[4.5200,20.6],[4.5202,20.9],[4.5204,21.4],[4.5206,20.4],[4.5208,17.7],[4.5210,13.8],[4.5212,6.9],[4.5214,12.4],[4.5216,19.2],[4.5218,21.4],[4.5220,20.6],[4.5222,18.7],[4.5224,17.7],[4.5226,17.0],[4.5228,16.3],[4.5230,12.6],[4.5232,12.4],[4.5234,6.9],[4.5235,1.0],[4.5237,7.9],[4.5239,14.3],[4.5241,15.5],[4.5243,16.7],[4.5245,17.7],[4.5247,18.7],[4.5249,17.2],[4.5251,14.8],[4.5253,13.1],[4.5254,18.4],[4.5255,18.4],[4.5256,14.3],[4.5258,15.0],[4.5260,15.8],[4.5262,14.3],[4.5264,12.9],[4.5266,11.4],[4.5268,10.4],[4.5270,9.4],[4.5272,8.2],[4.5274,7.4],[4.5276,6.9],[4.5278,7.9],[4.5280,11.9],[4.5282,14.3],[4.5286,15.3],[4.5290,16.0],[4.5294,17.0],[4.5298,17.7],[4.5302,18.0],[4.5306,18.4],[4.5310,18.0],[4.5314,17.5],[4.5317,18.0],[4.5321,18.4],[4.5325,18.9],[4.5329,19.7],[4.5331,19.9],[4.5333,17.5],[4.5337,16.5],[4.5341,15.5],[4.5345,14.6],[4.5349,13.6],[4.5353,12.6],[4.5357,11.7],[4.5361,10.7],[4.5365,9.7],[4.5369,8.7],[4.5373,7.7],[4.5376,7.1]];

// locus labels [name, position]
const A_labels = [["AT1179",0.0108],["AT1178",0.0203],["AT1010",0.0449]];
const B_labels = [["AT1171",5.5410],["AT1172",5.5458],["AT1173",5.5558],["AT1174",5.5598],["AT1175",5.5694],["AT1176",5.5718],["AT1177",5.5777]];
const C_labels = [["AT1001",0.0067],["AT1002",0.0247],["AT1003",0.0317],["AT1004",0.0380],["AT1005",0.0446]];
const D_labels = [["AT2136",4.5083]];
// markers [position, H3K9me value, kind]
const A_marks = [[0.0152,17.5,"sq"]];
const B_marks = [[5.5361,20.4,"purple"],[5.5470,20.2,"purple"],[5.5583,21.7,"teal"],[5.5681,21.8,"teal"]];
const C_marks = [[0.0316,16.6,"sq"],[0.0382,16.6,"sq"]];
const D_marks = [];

// ticks
const copyTicksTop = [1.0,1.5,2.0];
const copyTicksLow = [0.5,1.0,1.5,2.0];
const h3Ticks = [0,10,20,30];
const atTicks = [40,50,60,70,80];
const xTicks1 = [0,0.01,0.02,0.03,0.04,0.05], xLabels1 = ["0",".01",".02",".03",".04",".05"];
const xTicksB = [5.54,5.55,5.56,5.57,5.58], xLabelsB = ["5.54","5.55","5.56","5.57","5.58"];
const xTicksD = [4.50,4.51,4.52,4.53,4.54], xLabelsD = ["4.50","4.51","4.52","4.53","4.54"];

// ---------------- LAYOUT ----------------
const COL = {g:'#29c629', b:'#1f5fe6', r:'#f43a1d', at:'#ff3814', h3:'#b3860e', lab:'#d548cf', grid:'#a3a3ea', sq:'#3340ee', purple:'#5c2c9e', teal:'#1ea6a6'};
const ROWS = {
  top:{y0:15.7,y1:261,y2:505.5,y3:746,h3r:[746,670,533],atr:[659,499.3],labB:629.5,letterY:47.5},
  bot:{y0:839.7,y1:1086.2,y2:1329.5,y3:1558.3,h3r:[1558.3,1493,1355.7],atr:[1483.3,1326],labB:1441.7,letterY:871.5}
};
const PANELS = [
 {k:'A.',row:'top',x0:100,x1:607,dom:[0,0.01],rng:[190,273.1],tel:106,left:true,pos:A_pos,d2:A_2h,d4:A_4h,at:A_at,h3:A_h3,xt:xTicks1,xl:xLabels1,minor:[0,50],title:"Nucleotide Position Along Chromosome 1",tx:214,labels:A_labels,marks:A_marks},
 {k:'B.',row:'top',x0:620,x1:1127.5,dom:[5.54,5.55],rng:[676.5,760.3],tel:1094,left:false,pos:B_pos,d2:B_2h,d4:B_4h,at:B_at,h3:B_h3,xt:xTicksB,xl:xLabelsB,minor:[5534,5580],title:"Nucleotide Position Along Chromosome 1",tx:674,labels:B_labels,marks:B_marks},
 {k:'C.',row:'bot',x0:100,x1:607,dom:[0,0.01],rng:[190,273.1],tel:106,left:true,pos:C_pos,d2:C_2h,d4:C_4h,at:C_at,h3:C_h3,xt:xTicks1,xl:xLabels1,minor:[0,50],title:"Nucleotide Position along Chromosome 2",tx:221.7,labels:C_labels,marks:C_marks},
 {k:'D.',row:'bot',x0:620,x1:1127.5,dom:[4.50,4.51],rng:[667.3,751],tel:1098.5,left:false,pos:D_pos,d2:D_2h,d4:D_4h,at:D_at,h3:D_h3,xt:xTicksD,xl:xLabelsD,minor:[4495,4542],title:"Nucleotide Position along Chromosome 2",tx:668,labels:D_labels,marks:D_marks}
];

const svg = d3.select('#c');
const FS = 17.5;

function styleAxis(sel, fs){
  sel.select('.domain').remove();
  sel.selectAll('line').attr('stroke','#000').attr('stroke-width',2.5);
  sel.selectAll('text').attr('fill','#000').attr('font-size',fs||FS).style('font-family','"Liberation Sans",Arial,sans-serif');
}

function breakMark(g,cx,cy){
  [-6.5,6.5].forEach(dx=>{
    g.append('path').attr('d',`M${cx+dx+4.5},${cy-11}L${cx+dx-3.5},${cy-3.5}L${cx+dx+4.5},${cy+3}L${cx+dx-3.5},${cy+10.5}`)
      .attr('fill','none').attr('stroke','#000').attr('stroke-width',4).attr('stroke-linejoin','miter');
  });
}

PANELS.forEach(P=>{
  const R = ROWS[P.row];
  const g = svg.append('g');
  const xs = d3.scaleLinear().domain(P.dom).range(P.rng);
  const y2h = d3.scaleLinear().domain([0.5,2.0]).range([R.y1,R.y0]);
  const y4h = d3.scaleLinear().domain([0.5,2.0]).range([R.y2,R.y1]);
  const yh3 = d3.scaleLinear().domain([0,10,30]).range(R.h3r);
  const yat = d3.scaleLinear().domain([40,80]).range(R.atr);

  // dotted grid
  [[y2h,[1.0,1.5]],[y4h,[0.5,1.0,1.5,2.0]]].forEach(([ys,vals])=>{
    vals.forEach(v=>g.append('line').attr('x1',P.x0).attr('x2',P.x1).attr('y1',ys(v)).attr('y2',ys(v))
      .attr('stroke',COL.grid).attr('stroke-width',1).attr('stroke-dasharray','3,2.5'));
  });

  // bars
  const cols=[COL.g,COL.b,COL.r], off=[0,5,10];
  [[y2h,P.d2,TEL_2h],[y4h,P.d4,TEL_4h]].forEach(([ys,data,tel])=>{
    const items = P.pos.map((p,i)=>({x:xs(p),v:data[i]}));
    items.push({x:P.tel,v:tel});
    const base = ys(0.5);
    items.forEach(it=>{
      for(let s=0;s<3;s++){
        const x = it.x+off[s], hi=it.v[s*3];
        g.append('line').attr('x1',x).attr('x2',x).attr('y1',base).attr('y2',ys(Math.min(hi,2.0)))
          .attr('stroke',cols[s]).attr('stroke-width',2.6);
      }
    });
    items.forEach(it=>{
      for(let s=0;s<3;s++){
        const x = it.x+off[s], mid=it.v[s*3+1], sq=it.v[s*3+2];
        if(mid>=0.5) g.append('rect').attr('x',x-2.3).attr('y',ys(mid)-2.3).attr('width',4.6).attr('height',4.6).attr('fill',cols[s]);
        if(sq<=2.0) g.append('rect').attr('x',x-2.4).attr('y',ys(sq)-2.4).attr('width',4.8).attr('height',4.8).attr('fill',cols[s]);
      }
    });
  });

  // lines
  const lineAT = d3.line().defined(d=>d!==null).x(d=>xs(d[0])).y(d=>yat(d[1]));
  const lineH3 = d3.line().defined(d=>d!==null).x(d=>xs(d[0])).y(d=>yh3(d[1]));
  g.append('path').attr('d',lineAT(P.at)).attr('fill','none').attr('stroke',COL.at).attr('stroke-width',2.3).attr('stroke-linejoin','round');
  g.append('path').attr('d',lineH3(P.h3)).attr('fill','none').attr('stroke',COL.h3).attr('stroke-width',2.3).attr('stroke-linejoin','round');

  // markers
  P.marks.forEach(m=>{
    if(m[2]==='sq') g.append('rect').attr('x',xs(m[0])-4).attr('y',yh3(m[1])-4).attr('width',8).attr('height',8).attr('fill',COL.sq);
    else g.append('circle').attr('cx',xs(m[0])).attr('cy',yh3(m[1])).attr('r',4.6).attr('fill',COL[m[2]]);
  });
  // locus labels
  P.labels.forEach(l=>{
    g.append('text').attr('transform',`translate(${xs(l[1])},${R.labB}) rotate(-90)`).attr('dy','0.36em')
      .attr('font-size',14).attr('fill',COL.lab).text(l[0]);
  });

  // frame
  const fr = g.append('g').attr('stroke','#000').attr('stroke-width',3).attr('fill','none');
  fr.append('path').attr('d',`M${P.x0},${R.y3}V${R.y0}H${P.x1}V${R.y3}H${P.x0}`).attr('stroke-linecap','square');

  // x axis
  const minors = d3.range(P.minor[0],P.minor[1]+1).map(i=>i/1000);
  g.append('g').attr('transform',`translate(0,${R.y3})`).call(d3.axisBottom(xs).tickValues(minors).tickSize(8).tickFormat('')).call(styleAxis);
  g.append('g').attr('transform',`translate(0,${R.y3})`).call(d3.axisBottom(xs).tickValues(P.xt).tickSize(13).tickPadding(11).tickFormat((d,i)=>P.xl[i])).call(styleAxis);
  if(!P.left){
    const last = P.xt[P.xt.length-1];
    const t = g.append('text').attr('x',xs(last)+17.3).attr('y',R.y3+36.8).attr('font-size',FS).text('x10');
    t.append('tspan').attr('dy',-8).attr('font-size',12.5).text('6');
  }
  // telomere tick & label
  g.append('line').attr('x1',P.tel).attr('x2',P.tel).attr('y1',R.y3).attr('y2',R.y3+13).attr('stroke','#000').attr('stroke-width',2.5);
  g.append('text').attr('transform',`translate(${P.tel-9.5},${R.y3+19}) rotate(45)`).attr('font-size',17).text('Telomere');
  // x title
  g.append('text').attr('x',P.tx).attr('y',R.y3+65).attr('font-size',16.5).text(P.title);

  // y axes
  if(P.left){
    g.append('g').attr('transform',`translate(${P.x0},0)`).call(d3.axisLeft(y2h).tickValues(copyTicksTop).tickSize(14).tickPadding(1.5).tickFormat(d3.format('.1f'))).call(styleAxis,18);
    g.append('g').attr('transform',`translate(${P.x0},0)`).call(d3.axisLeft(y4h).tickValues(copyTicksLow).tickSize(14).tickPadding(1.5).tickFormat(d3.format('.1f'))).call(styleAxis,18);
    g.append('g').attr('transform',`translate(${P.x0},0)`).call(d3.axisLeft(yh3).tickValues(h3Ticks).tickSize(14).tickPadding(1.5).tickFormat(d3.format('d'))).call(styleAxis,18);
    const titles = [
      [(R.y0+R.y1)/2-3, ["Relative Copy Number","(Two hours in HU)"]],
      [(R.y1+R.y2)/2, ["Relative Copy Number","(Four hours in HU)"]],
      [(R.y2+R.y3)/2+12, ["H3K9me Relative Enrichment", null]]
    ];
    titles.forEach(([cy,lines])=>{
      g.append('text').attr('transform',`translate(20,${cy}) rotate(-90)`).attr('text-anchor','middle').attr('dy','0.36em').attr('font-size',17.5).text(lines[0]);
      const t2 = g.append('text').attr('transform',`translate(41,${cy}) rotate(-90)`).attr('text-anchor','middle').attr('dy','0.36em').attr('font-size',17.5);
      if(lines[1]) t2.text(lines[1]);
      else { t2.append('tspan').text('(Cam '); t2.append('tspan').attr('font-style','italic').text('et al.'); t2.append('tspan').text(', 2005)'); }
    });
    breakMark(g,145,R.y1); breakMark(g,145,R.y2); breakMark(g,145,R.y3);
    breakMark(g,613.5,R.y3);
  } else {
    const minAT = d3.range(40,83,2);
    g.append('g').attr('transform',`translate(${P.x1},0)`).call(d3.axisRight(yat).tickValues(minAT).tickSize(8).tickFormat('')).call(styleAxis);
    g.append('g').attr('transform',`translate(${P.x1},0)`).call(d3.axisRight(yat).tickValues(atTicks).tickSize(13).tickPadding(5).tickFormat(d3.format('d'))).call(styleAxis,18);
    g.append('text').attr('transform',`translate(1181.5,${yat(60)-7}) rotate(90)`).attr('text-anchor','middle').attr('dy','0.36em').attr('font-size',17.5).text('Percent AT');
    breakMark(g,1057.5,R.y1); breakMark(g,1057.5,R.y2); breakMark(g,1057.5,R.y3);
  }
  // panel letter
  g.append('text').attr('x',P.x0+14).attr('y',R.letterY).attr('font-size',27).attr('font-weight','bold').text(P.k);
});
</script></body></html>
